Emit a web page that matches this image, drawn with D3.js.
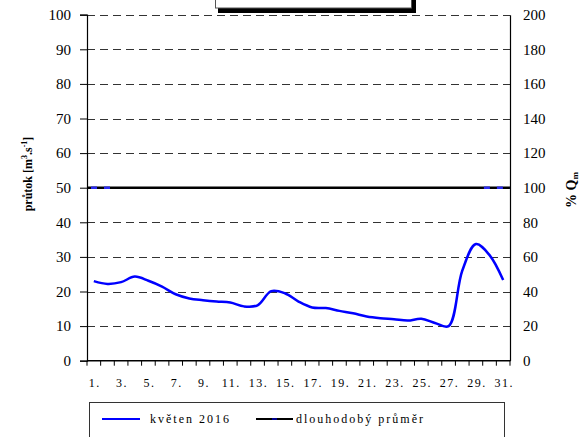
<!DOCTYPE html>
<html><head><meta charset="utf-8">
<script src="https://cdn.jsdelivr.net/npm/d3@7"></script>
<style>body{margin:0;background:#fff}svg{display:block}</style>
</head><body><svg id="c" width="582" height="437" font-family="'Liberation Serif', 'Times New Roman', 'DejaVu Serif', serif"></svg>
<script>
const days = d3.range(1, 32);
const dayLabels = days.map(d => d % 2 === 1 ? d + "." : "");
const flow2016 = [23.0, 22.2, 22.7, 24.3, 23.1, 21.4, 19.2, 18.0, 17.5, 17.1, 16.8, 15.7, 16.0, 20.1, 19.5, 17.1, 15.4, 15.2, 14.4, 13.7, 12.8, 12.3, 12.0, 11.6, 12.1, 10.9, 10.0, 26.0, 33.7, 30.5, 23.3];
const longTermMean = 50;
const leftTicks = d3.range(0, 101, 10);
const rightTicks = d3.range(0, 201, 20);
const seriesNames = ["květen 2016", "dlouhodobý průměr"];

const FF = "'Liberation Serif', 'Times New Roman', 'DejaVu Serif', serif";
const svg = d3.select("#c");
const L = 87, R = 510, T = 14.7, B = 360.7;
const x = d3.scaleBand().domain(days).range([L, R]);
const xc = d => x(d) + x.bandwidth() / 2;
const y = d3.scaleLinear().domain([0, 100]).range([B, T]);
const y2 = d3.scaleLinear().domain([0, 200]).range([B, T]);

// title box (clipped at top)
svg.append("rect").attr("x", 218).attr("y", -20).attr("width", 198).attr("height", 33).attr("fill", "#000");
svg.append("rect").attr("x", 215.5).attr("y", -20).attr("width", 196).attr("height", 28).attr("fill", "#fff").attr("stroke", "#555").attr("stroke-width", 1);

// gridlines
svg.append("g").selectAll("line").data(leftTicks.filter(t => t > 0)).join("line")
  .attr("x1", L).attr("x2", R).attr("y1", d => Math.round(y(d)) + 0.5).attr("y2", d => Math.round(y(d)) + 0.5)
  .attr("stroke", "#333").attr("stroke-width", 1).attr("stroke-dasharray", "8,5");

// left axis
const gl = svg.append("g").attr("transform", `translate(${L},0)`)
  .call(d3.axisLeft(y).tickValues(leftTicks).tickSize(7).tickPadding(9));
gl.attr("font-family", FF);
gl.select(".domain").attr("stroke", "#000").attr("stroke-width", 1.2);
gl.selectAll("text").attr("font-size", 15).attr("fill", "#000");
// right axis
const gr = svg.append("g").attr("transform", `translate(${R},0)`)
  .call(d3.axisRight(y2).tickValues(rightTicks).tickSize(0).tickPadding(13));
gr.attr("font-family", FF);
gr.select(".domain").attr("stroke", "#000").attr("stroke-width", 1.2);
gr.selectAll("text").attr("font-size", 15).attr("fill", "#000");

// x axis
const gx = svg.append("g").attr("transform", `translate(0,${B})`);
gx.append("line").attr("x1", L).attr("x2", R).attr("stroke", "#000").attr("stroke-width", 1.5);
gx.selectAll("line.t").data(days.concat([32])).join("line").attr("class", "t")
  .attr("x1", (d, i) => i < 31 ? x(d) : R).attr("x2", (d, i) => i < 31 ? x(d) : R)
  .attr("y1", 0).attr("y2", 5).attr("stroke", "#000");
gx.selectAll("text").data(days).join("text")
  .attr("x", d => xc(d) + 1).attr("y", 26).attr("text-anchor", "middle")
  .attr("font-size", 12).attr("letter-spacing", 1.5).text((d, i) => dayLabels[i]);

// long-term mean
svg.append("line").attr("x1", L).attr("x2", R).attr("y1", y(longTermMean)).attr("y2", y(longTermMean))
  .attr("stroke", "#000").attr("stroke-width", 2.5);
[[L, xc(2) + 8], [xc(29) + 4, R]].forEach(([a, b]) => {
  svg.append("line").attr("x1", a + 4).attr("x2", b).attr("y1", y(longTermMean)).attr("y2", y(longTermMean))
    .attr("stroke", "#2a2af0").attr("stroke-width", 2.5).attr("stroke-dasharray", "6,7");
});

// flow line
svg.append("path").datum(flow2016)
  .attr("d", d3.line().x((d, i) => xc(days[i])).y(d => y(d)).curve(d3.curveCatmullRom.alpha(0.5)))
  .attr("fill", "none").attr("stroke", "#0000ff").attr("stroke-width", 2.5);

// axis titles
svg.append("text").attr("transform", "translate(32,174) rotate(-90)").attr("text-anchor", "middle")
  .attr("font-size", 12).attr("font-weight", "bold")
  .html('průtok [m<tspan dy="-5" font-size="8">3</tspan><tspan dy="5">.</tspan>s<tspan dy="-5" font-size="8">-1</tspan><tspan dy="5">]</tspan>');
svg.append("text").attr("transform", "translate(576,190) rotate(-90)").attr("text-anchor", "middle")
  .attr("font-size", 14).attr("font-weight", "bold")
  .html('% Q<tspan dy="2" font-size="9">m</tspan>');

// legend
svg.append("rect").attr("x", 89.5).attr("y", 402.5).attr("width", 415).attr("height", 60)
  .attr("fill", "#fff").attr("stroke", "#333").attr("stroke-width", 1);
svg.append("line").attr("x1", 102).attr("x2", 140).attr("y1", 419).attr("y2", 419).attr("stroke", "#0000ff").attr("stroke-width", 2);
svg.append("text").attr("x", 150).attr("y", 423).attr("font-size", 12).attr("letter-spacing", 2).text(seriesNames[0]);
svg.append("line").attr("x1", 256).attr("x2", 293).attr("y1", 419).attr("y2", 419).attr("stroke", "#000").attr("stroke-width", 2);
svg.append("line").attr("x1", 272).attr("x2", 277).attr("y1", 419).attr("y2", 419).attr("stroke", "#00008b").attr("stroke-width", 2);
svg.append("text").attr("x", 296).attr("y", 423).attr("font-size", 12).attr("letter-spacing", 2).text(seriesNames[1]);
</script></body></html>
